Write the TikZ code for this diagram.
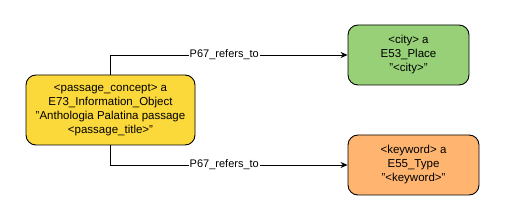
\documentclass[tikz,border=0pt]{standalone}
\usepackage{fontspec}
\setmainfont{Liberation Sans}
\usetikzlibrary{arrows.meta}
\definecolor{conceptyellow}{HTML}{FCD93A}
\definecolor{placegreen}{HTML}{97D077}
\definecolor{typeorange}{HTML}{FFB570}
\tikzset{
  entity/.style={draw, line width=0.9pt, rounded corners=10pt, align=center,
    font=\fontsize{11.5}{14}\selectfont, inner sep=0pt},
  relation/.style={line width=0.9pt, -{Stealth[length=7pt,width=6pt]}},
  relabel/.style={fill=white, inner sep=1pt, font=\fontsize{11}{13}\selectfont}
}
\begin{document}
\begin{tikzpicture}[x=1pt,y=-1pt]
            \useasboundingbox[fill=white] (0,0) rectangle (505,221);

            % Entidades
            \node[entity, fill=conceptyellow, minimum width=169pt, minimum height=70pt] (concept) at (110.5,110)
              {<passage\_concept> a\\E73\_Information\_Object\\"Anthologia Palatina passage\\<passage\_title>"};
            \node[entity, fill=placegreen, minimum width=121pt, minimum height=60pt] (city) at (408.5,55)
              {<city> a\\E53\_Place\\"<city>"};
            \node[entity, fill=typeorange, minimum width=131pt, minimum height=60pt] (keyword) at (413.5,165)
              {<keyword> a\\E55\_Type\\"<keyword>"};

            % Relaciones
            \draw[relation] (concept.north) |- (city.west) node[relabel, pos=0.74] {P67\_refers\_to};
            \draw[relation] (concept.south) |- (keyword.west) node[relabel, pos=0.74] {P67\_refers\_to};
        \end{tikzpicture}
\end{document}
